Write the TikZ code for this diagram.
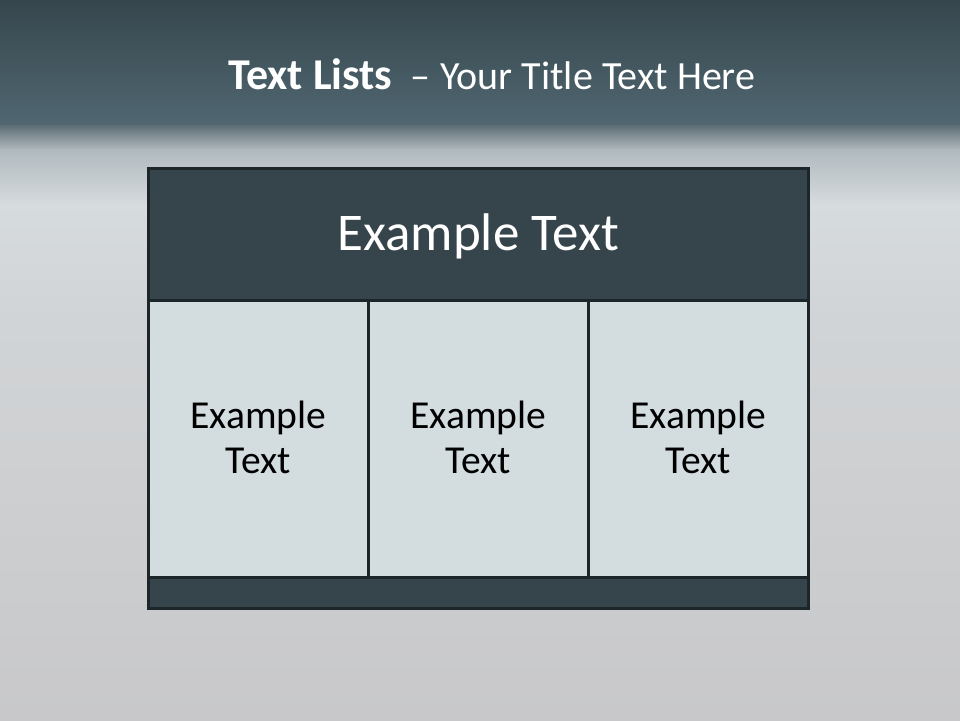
\documentclass[tikz,border=0pt]{standalone}
\usepackage{fontspec}
\setmainfont{Carlito}
\definecolor{bandtop}{HTML}{36464D}
\definecolor{bandbot}{HTML}{506771}
\definecolor{hdrfill}{HTML}{36454B}
\definecolor{cellfill}{HTML}{D3DCDF}
\definecolor{edge}{HTML}{1C2629}
\tikzset{
  boxpart/.style={draw=edge, line width=3pt, inner sep=0pt, outer sep=0pt},
  hdrtext/.style={text=white, font=\fontsize{53}{60}\selectfont},
  celltext/.style={text=black, align=center, font=\fontsize{39.6}{45}\selectfont},
  titletext/.style={text=white, inner sep=0pt, anchor=base west}
}
\begin{document}
\begin{tikzpicture}[x=1pt,y=-1pt]
\useasboundingbox (0,0) rectangle (960,720);
% background
\shade[top color=bandtop, bottom color=bandbot] (0,0) rectangle (960,126);
\shade[top color=bandbot!70!gray, bottom color={rgb,255:red,176;green,186;blue,190}] (0,125.5) rectangle (960,150);
\shade[top color={rgb,255:red,176;green,186;blue,190}, bottom color={rgb,255:red,214;green,219;blue,222}] (0,149.5) rectangle (960,205);
\shade[top color={rgb,255:red,214;green,219;blue,222}, bottom color={rgb,255:red,209;green,212;blue,214}] (0,204.5) rectangle (960,320);
\shade[top color={rgb,255:red,209;green,212;blue,214}, bottom color={rgb,255:red,200;green,200;blue,202}] (0,319.5) rectangle (960,720);
% title
\node[titletext] (title) at (228,89) {{\fontsize{44}{50}\selectfont\bfseries Text Lists}\hspace{18pt}{\fontsize{40}{48}\selectfont –\hspace{1pt} Your Title Text Here}};
% table
\node[boxpart, fill=cellfill, minimum width=220pt, minimum height=276.8pt] (c1) at (258.3,439) {};
\node[boxpart, fill=cellfill, minimum width=220pt, minimum height=276.8pt] (c2) at (478.3,439) {};
\node[boxpart, fill=cellfill, minimum width=220pt, minimum height=276.8pt] (c3) at (698.3,439) {};
\node[boxpart, fill=hdrfill, minimum width=660pt, minimum height=132.2pt] (hdr) at (478.3,234.4) {};
\node[boxpart, fill=hdrfill, minimum width=660pt, minimum height=30.7pt] (ftr) at (478.3,592.65) {};
% texts
\node[hdrtext] (hdrt) at ([yshift=-1.5pt]hdr.center) {Example Text};
\node[celltext] (t1) at ([yshift=1.5pt]c1.center) {Example\\Text};
\node[celltext] (t2) at ([yshift=1.5pt]c2.center) {Example\\Text};
\node[celltext] (t3) at ([yshift=1.5pt]c3.center) {Example\\Text};
\end{tikzpicture}
\end{document}
